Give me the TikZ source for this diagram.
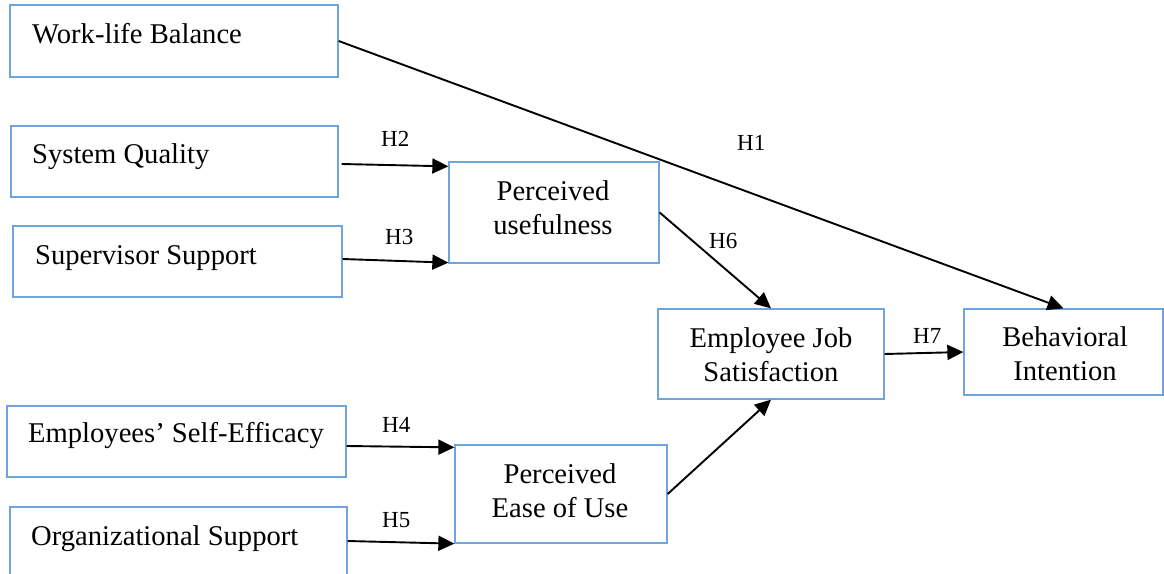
\documentclass[tikz,border=0pt]{standalone}
\usepackage{fontspec}
\setmainfont{Liberation Serif}
\usetikzlibrary{arrows.meta,calc}
\definecolor{boxblue}{RGB}{110,165,222}
\begin{document}
\begin{tikzpicture}[x=1pt,y=-1pt,
  box/.style={draw=boxblue,line width=1.3pt,inner sep=0pt},
  lbl/.style={font=\fontsize{28.6}{34}\selectfont,inner sep=0pt},
  mlbl/.style={font=\fontsize{28.6}{34}\selectfont,inner sep=0pt,align=center},
  hl/.style={font=\fontsize{23}{26}\selectfont,inner sep=0pt,anchor=base west},
  arr/.style={line width=1.9pt,-{Triangle[length=16pt,width=15pt]}}]
\clip (0,0) rectangle (1164,573);
% boxes
\node[box,minimum width=328pt,minimum height=72pt] (wlb) at (174,41) {};
\node[box,minimum width=327pt,minimum height=71pt] (sq) at (174.5,161.5) {};
\node[box,minimum width=329pt,minimum height=71pt] (ss) at (177.5,261.5) {};
\node[box,minimum width=210pt,minimum height=101pt] (pu) at (554,212.5) {};
\node[box,minimum width=226pt,minimum height=90pt] (ejs) at (771,354) {};
\node[box,minimum width=199pt,minimum height=86pt] (bi) at (1063.5,352) {};
\node[box,minimum width=339pt,minimum height=71pt] (ese) at (176.5,441.5) {};
\node[box,minimum width=337pt,minimum height=73pt] (os) at (178.5,543.5) {};
\node[box,minimum width=212pt,minimum height=98pt] (peu) at (561,494) {};
% texts
\node[lbl,anchor=base west] (twlb) at (32,43) {Work-life Balance};
\node[lbl,anchor=base west] (tsq) at (32,163) {System Quality};
\node[lbl,anchor=base west] (tss) at (35,264) {Supervisor Support};
\node[lbl,anchor=base west] (tese) at (28,442) {Employees’ Self-Efficacy};
\node[lbl,anchor=base west] (tos) at (31,545) {Organizational Support};
\node[mlbl] (tpu) at (553,207.5) {Perceived\\usefulness};
\node[mlbl] (tejs) at (771,354.5) {Employee Job\\Satisfaction};
\node[mlbl] (tbi) at (1065,353.5) {Behavioral\\Intention};
\node[mlbl] (tpeu) at (560,491) {Perceived\\Ease of Use};
% connectors
\draw[arr] (wlb.east) -- (bi.north);
\draw[arr] ($(sq.east)+(3,2.5)$) -- ($(pu.north west)+(0,5)$);
\draw[arr] ($(ss.east)+(0,-2.5)$) -- ($(pu.south west)+(0,-1)$);
\draw[arr] (pu.east) -- (ejs.north);
\draw[arr] (peu.east) -- (ejs.south);
\draw[arr] ($(ese.east)+(0,4.5)$) -- ($(peu.north west)+(0,3)$);
\draw[arr] ($(os.east)+(0,-2.5)$) -- (peu.south west);
\draw[arr] (ejs.east) -- (bi.west);
% hypothesis labels
\node[hl] (h1) at (737,150) {H1};
\node[hl] (h2) at (381,146) {H2};
\node[hl] (h3) at (385,244) {H3};
\node[hl] (h4) at (382,432) {H4};
\node[hl] (h5) at (382,527) {H5};
\node[hl] (h6) at (709,248) {H6};
\node[hl] (h7) at (913,343) {H7};
\end{tikzpicture}
\end{document}
